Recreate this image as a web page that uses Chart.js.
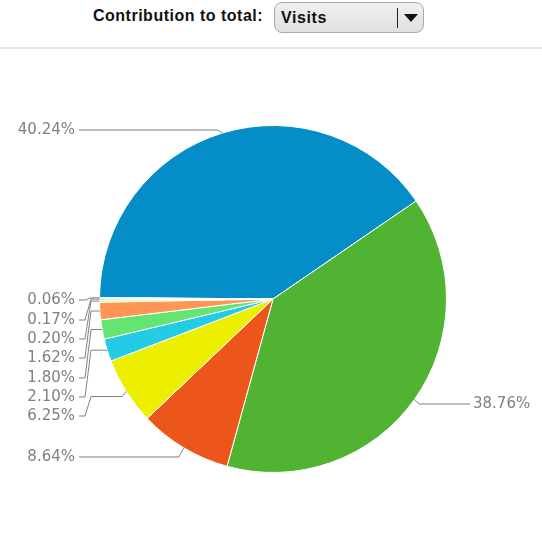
<!DOCTYPE html>
<html>
<head>
<meta charset="utf-8">
<script src="https://cdn.jsdelivr.net/npm/chart.js@4/dist/chart.umd.min.js"></script>
<style>
    body { margin:0; background:#fff; font-family: Arial, "Liberation Sans", sans-serif; }
    #page { position:relative; width:542px; height:552px; overflow:hidden; }
    .ctl-label { position:absolute; left:93px; top:7px; font-size:16px; font-weight:bold; color:#111; letter-spacing:0.5px; }
    .select { position:absolute; left:274px; top:2px; width:150px; height:31px; border:1px solid #aaa; border-radius:8px;
        background:linear-gradient(#f0f0f0, #e0e0e0); box-sizing:border-box; }
    .select .val { position:absolute; left:6px; top:6px; font-size:16px; font-weight:bold; color:#111; letter-spacing:0.6px; }
    .select .sep { position:absolute; left:122px; top:5px; width:1px; height:20px; background:#222; }
    .select .arr { position:absolute; left:129px; top:11px; width:0; height:0; border-left:7px solid transparent;
        border-right:7px solid transparent; border-top:8px solid #111; }
    .rule { position:absolute; left:0; top:47px; width:542px; height:2px; background:#e2e2e2; }
    #wrap { position:absolute; left:0; top:50px; width:542px; height:502px; }
</style>
</head>
<body>
<div id="page">
    <div class="ctl-label">Contribution to total:</div>
    <div class="select"><span class="val">Visits</span><span class="sep"></span><span class="arr"></span></div>
    <div class="rule"></div>
    <div id="wrap"><canvas id="pie"></canvas></div>
</div>
<script>
// share of visits, clockwise from 9 o'clock
const shares = [40.24, 38.76, 8.64, 6.25, 2.10, 1.80, 1.62, 0.20, 0.17, 0.06];
const labels = shares.map(v => v.toFixed(2) + '%');
const colors = ['#058DC7', '#50B432', '#ED561B', '#EDEF00', '#24CBE5', '#64E572', '#FF9655', '#FFF263', '#6AF9C4', '#999999'];

// where each label sits (canvas y)
const labelY = [80, 354, 407, 366, 347, 328, 308, 289, 270, 250];

const leaderPlugin = {
    id: 'leaders',
    afterDatasetsDraw(chart) {
        const ctx = chart.ctx;
        const arcs = chart.getDatasetMeta(0).data;
        ctx.save();
        ctx.strokeStyle = '#808080';
        ctx.lineWidth = 1;
        ctx.fillStyle = '#808080';
        ctx.font = '15px "DejaVu Sans", Verdana, sans-serif';
        ctx.textBaseline = 'middle';
        arcs.forEach((arc, i) => {
            const mid = (arc.startAngle + arc.endAngle) / 2;
            const px = arc.x + Math.cos(mid) * arc.outerRadius;
            const py = arc.y + Math.sin(mid) * arc.outerRadius;
            const ly = labelY[i];
            ctx.beginPath();
            ctx.moveTo(px, py);
            if (i === 1) {
                ctx.lineTo(px + 5, ly);
                ctx.lineTo(470, ly);
                ctx.stroke();
                ctx.textAlign = 'left';
                ctx.fillText(labels[i], 473, ly);
                return;
            }
            if (i <= 2) {
                ctx.lineTo(px - 5, ly);
            } else {
                const ky = i === 3 ? py + 5 : py;
                ctx.lineTo(px - 4, ky);
                ctx.lineTo(91, ky);
                ctx.lineTo(85, ly);
            }
            ctx.lineTo(79, ly);
            ctx.stroke();
            ctx.textAlign = 'right';
            ctx.fillText(labels[i], 75, ly);
        });
        ctx.restore();
    }
};

new Chart(document.getElementById('pie'), {
    type: 'pie',
    data: {
        labels: labels,
        datasets: [{
            data: shares,
            backgroundColor: colors,
            borderColor: '#fff',
            borderWidth: 1
        }]
    },
    options: {
        responsive: true,
        maintainAspectRatio: false,
        animation: false,
        rotation: 270.5,
        layout: { padding: { left: 99, right: 95, top: 75, bottom: 79 } },
        plugins: { legend: { display: false }, tooltip: { enabled: false } }
    },
    plugins: [leaderPlugin]
});
</script>
</body>
</html>
